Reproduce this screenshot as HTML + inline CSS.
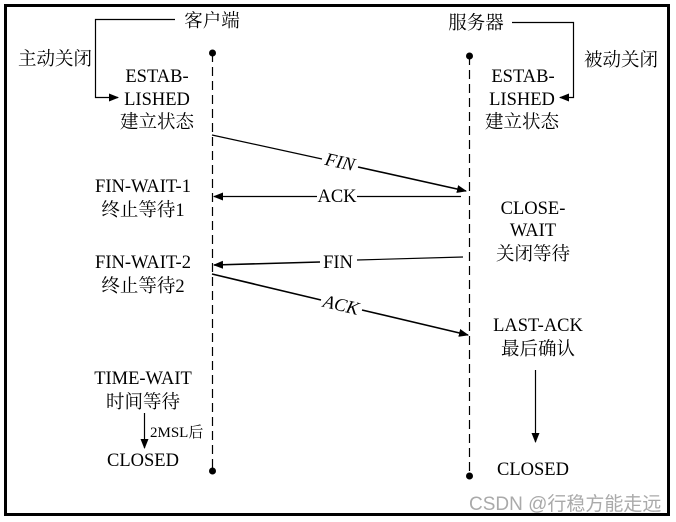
<!DOCTYPE html>
<html><head><meta charset="utf-8"><style>
body{margin:0;background:#fff;}
svg{display:block;}
text{font-family:"Liberation Serif","Noto Serif CJK SC",serif;font-size:18.5px;fill:#000;}
.s{font-size:15px;}
</style></head><body>
<svg width="676" height="522" viewBox="0 0 676 522">
<defs><marker id="a" markerWidth="10" markerHeight="8" refX="9" refY="4" orient="auto" markerUnits="userSpaceOnUse"><path d="M0,0 L10,4 L0,8z" fill="#000"/></marker></defs>
<rect x="5.5" y="5.5" width="663" height="509" fill="none" stroke="#000" stroke-width="3"/>
<g stroke="#000" stroke-width="1.2" fill="none">
<line x1="212.5" y1="53" x2="212.5" y2="471" stroke-dasharray="9,5"/>
<line x1="469.5" y1="56" x2="469.5" y2="476" stroke-dasharray="9,5"/>
<polyline points="175,19.5 95.5,19.5 95.5,97.5 118,97.5" marker-end="url(#a)"/>
<polyline points="512,22.5 573.5,22.5 573.5,97.5 560,97.5" marker-end="url(#a)"/>
<line x1="212" y1="135" x2="322" y2="159"/>
<line x1="358" y1="167" x2="466" y2="191" stroke-width="1.6" marker-end="url(#a)"/>
<line x1="461" y1="196.5" x2="357" y2="196.5"/>
<line x1="317" y1="196.5" x2="214" y2="196.5" marker-end="url(#a)"/>
<line x1="463" y1="257" x2="357" y2="260"/>
<line x1="320" y1="262" x2="214" y2="265" stroke-width="1.6" marker-end="url(#a)"/>
<line x1="212" y1="274" x2="321" y2="300" stroke-width="1.6"/>
<line x1="362" y1="310" x2="468" y2="335" stroke-width="1.6" marker-end="url(#a)"/>
<line x1="144.5" y1="413" x2="144.5" y2="448" marker-end="url(#a)"/>
<line x1="535.5" y1="370" x2="535.5" y2="442" marker-end="url(#a)"/>
</g>
<circle cx="212.5" cy="53" r="3.5"/><circle cx="212.5" cy="471" r="3.5"/>
<circle cx="469.5" cy="56" r="3.5"/><circle cx="469.5" cy="476" r="3.5"/>
<g text-anchor="middle">
<text x="212" y="27">客户端</text>
<text x="476" y="29">服务器</text>
<text x="55" y="65">主动关闭</text>
<text x="621" y="66">被动关闭</text>
<text x="157" y="82">ESTAB-</text>
<text x="157" y="105">LISHED</text>
<text x="157" y="128">建立状态</text>
<text x="523" y="82">ESTAB-</text>
<text x="522" y="105">LISHED</text>
<text x="522" y="128">建立状态</text>
<text x="143" y="192">FIN-WAIT-1</text>
<text x="143" y="216">终止等待1</text>
<text x="533" y="214">CLOSE-</text>
<text x="533" y="236">WAIT</text>
<text x="533" y="260">关闭等待</text>
<text x="143" y="268">FIN-WAIT-2</text>
<text x="143" y="292">终止等待2</text>
<text x="538" y="331">LAST-ACK</text>
<text x="538" y="355">最后确认</text>
<text x="143" y="384">TIME-WAIT</text>
<text x="143" y="408">时间等待</text>
<text x="143" y="466">CLOSED</text>
<text x="533" y="475">CLOSED</text>
<text x="337" y="202">ACK</text>
<text x="338" y="268">FIN</text>
<text x="340" y="168" transform="rotate(12.5 340 162)" font-style="italic">FIN</text>
<text x="341" y="311" transform="rotate(13.5 341 305)" font-style="italic">ACK</text>
</g>
<text x="150" y="437" class="s">2MSL后</text>
<text x="469" y="510" style="font-family:'Liberation Sans','Noto Sans CJK SC',sans-serif;font-size:19px;fill:#aaa">CSDN @行稳方能走远</text>
</svg>
</body></html>
